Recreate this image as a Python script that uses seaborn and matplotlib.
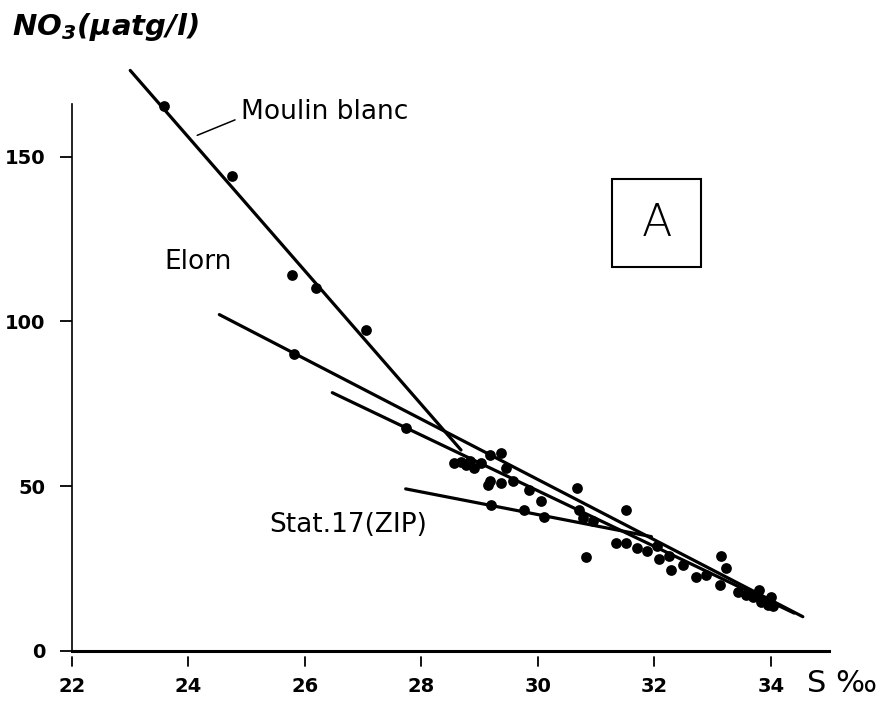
import matplotlib
matplotlib.use("Agg")
import matplotlib.pyplot as plt
from matplotlib.patches import Rectangle
import seaborn as sns
import pandas as pd

# Salinity (S ‰) and nitrate (µatg/l) of the sampled stations
salinity = [23.58, 24.75, 25.77, 26.19, 27.05, 25.81, 27.73,
            28.56, 28.68, 28.76, 28.84, 28.91, 29.02, 29.17, 29.37, 29.45,
            29.14, 29.17, 29.37, 29.57, 29.85, 30.05, 29.19, 29.77, 30.11,
            30.68, 30.71, 30.77, 30.83, 30.95, 31.51, 31.34, 31.51, 31.71,
            31.88, 32.08, 32.05, 32.25, 32.28, 32.49, 32.72, 32.89, 33.15,
            33.23, 33.12, 33.43, 33.57, 33.69, 33.80, 33.83, 34.00, 34.03,
            33.95, 33.60]
nitrate = [165.4, 144.2, 114.0, 110.2, 97.3, 90.0, 67.7,
           57.0, 57.5, 56.5, 57.8, 55.5, 57.0, 59.6, 60.1, 55.5,
           50.5, 51.5, 51.0, 51.5, 48.9, 45.4, 44.4, 42.9, 40.8,
           49.5, 42.9, 40.3, 28.5, 39.5, 42.9, 32.7, 32.7, 31.2,
           30.2, 28.0, 32.0, 28.7, 24.6, 26.1, 22.6, 23.1, 28.7,
           25.1, 20.1, 18.0, 17.0, 16.5, 18.5, 15.0, 16.5, 13.5,
           14.0, 17.5]

# Dilution lines (end points)
moulin_x = [23.0, 28.68]
moulin_y = [176.2, 61.0]
elorn_x = [24.53, 34.55]
elorn_y = [102.1, 10.4]
middle_x = [26.47, 34.4]
middle_y = [78.4, 11.5]
stat17_x = [27.73, 31.95]
stat17_y = [49.2, 34.7]

x_ticks = [22, 24, 26, 28, 30, 32, 34]
y_ticks = [0, 50, 100, 150]

sns.set_theme(style="white")
plt.rcParams["font.family"] = ["DejaVu Sans"]
plt.rcParams["mathtext.default"] = "regular"

fig = plt.figure(figsize=(8.77, 7.03), dpi=100)
ax = fig.add_axes([0.0821, 0.074, 0.8632, 0.778])

df = pd.DataFrame({"S": salinity, "NO3": nitrate})
sns.scatterplot(data=df, x="S", y="NO3", ax=ax, color="black", s=60,
                linewidth=0, zorder=3)

for lx, ly in [(moulin_x, moulin_y), (elorn_x, elorn_y),
               (middle_x, middle_y), (stat17_x, stat17_y)]:
    sns.lineplot(x=lx, y=ly, ax=ax, color="black", linewidth=2.3,
                 estimator=None, sort=False, zorder=2)

for art in list(ax.lines) + list(ax.collections):
    art.set_clip_on(False)

ax.set_xlim(22, 35)
ax.set_ylim(0, 166)
ax.set_xlabel("")
ax.set_ylabel("")

# Axes: only left and bottom
for side in ("top", "right"):
    ax.spines[side].set_visible(False)
ax.spines["bottom"].set_linewidth(2.2)
ax.spines["left"].set_linewidth(1.2)
ax.spines["bottom"].set_color("black")
ax.spines["left"].set_color("black")

ax.set_xticks(x_ticks)
ax.set_yticks(y_ticks)
ax.tick_params(axis="x", length=0, pad=19, labelsize=14)
ax.tick_params(axis="y", direction="out", length=9, width=1.3, pad=10,
               labelsize=14, left=True, color="black")
for lab in ax.get_xticklabels() + ax.get_yticklabels():
    lab.set_fontweight("bold")
    lab.set_color("black")

# detached tick marks under the salinity axis
xtrans = ax.get_xaxis_transform()
for t in x_ticks:
    ax.plot([t, t], [-0.011, -0.027], transform=xtrans, color="black",
            lw=1.3, clip_on=False)

# Labels of the lines
ax.annotate("Moulin blanc", xy=(24.15, 156.5), xytext=(24.9, 163.5),
            ha="left", va="center", fontsize=19, color="black",
            arrowprops=dict(arrowstyle="-", lw=1.1, color="black",
                            shrinkA=2, shrinkB=0, relpos=(0, 0.3)))
ax.text(23.58, 118.2, "Elorn", ha="left", va="center", fontsize=19,
        color="black")
ax.text(25.38, 38.3, "Stat.17(ZIP)", ha="left", va="center", fontsize=19,
        color="black")

# Panel letter in a box
ax.add_patch(Rectangle((31.28, 116.4), 1.53, 26.8, fill=False,
                       edgecolor="black", lw=1.5, zorder=4))
ax.text(32.045, 129.8, "A", ha="center", va="center", fontsize=32,
        fontweight="light", color="black")

# Axis titles
fig.text(0.014, 0.962, r"NO$_3$(μatg/l)", ha="left", va="center",
         fontsize=21, fontweight="bold", fontstyle="italic", color="black")
fig.text(0.920, 0.028, "S ‰", ha="left", va="center", fontsize=22,
         color="black")

fig.savefig("out.png", dpi=100)
